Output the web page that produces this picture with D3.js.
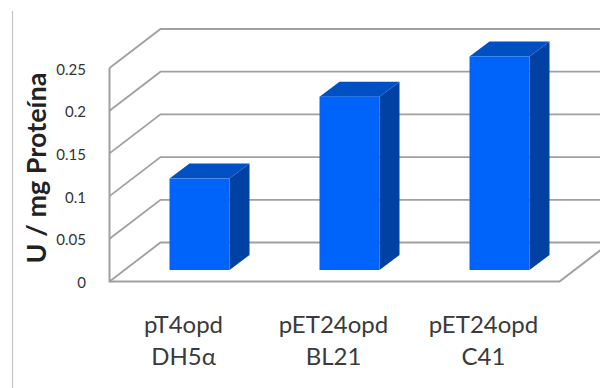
<!DOCTYPE html>
<html>
<head>
<meta charset="utf-8">
<script src="https://cdn.jsdelivr.net/npm/d3@7"></script>
<style>
html,body{margin:0;padding:0;background:#fff;}
svg{display:block;}
text{font-family:Lato,"Open Sans",sans-serif;}
</style>
</head>
<body>
<div id="chart"></div>
<script>
const categoryTop = ["pT4opd", "pET24opd", "pET24opd"];
const categoryBottom = ["DH5α", "BL21", "C41"];
const activity = [0.107, 0.203, 0.25];
const tickValues = [0, 0.05, 0.1, 0.15, 0.2, 0.25];
const tickLabels = ["0", "0.05", "0.1", "0.15", "0.2", "0.25"];

const width = 600, height = 388;
const svg = d3.select("#chart").append("svg").attr("width", width).attr("height", height);

// Oblique projection: front plane scales plus the offset of the back wall
const y = d3.scaleLinear().domain([0, 0.25]).range([281.5, 68]);
const x = d3.scaleBand().domain(d3.range(activity.length)).range([109.5, 559.5]).paddingInner(0.6).paddingOuter(0.3);
const wall = {dx: 51, dy: -39};
const barShift = {dx: 15, dy: -11.5};
const barDepth = {dx: 20, dy: -15};
const gridColor = "#a0a0a0";

// Left frame edge
svg.append("line").attr("x1", 12.5).attr("x2", 12.5).attr("y1", 11).attr("y2", height)
  .attr("stroke", "#c4c4c4").attr("stroke-width", 1.2);

// Wall gridlines with their slanted returns on the side wall
const grid = svg.append("g").attr("fill", "none").attr("stroke", gridColor).attr("stroke-width", 1.8);
grid.selectAll("path").data(tickValues).join("path")
  .attr("d", v => `M${x.range()[0]},${y(v)}L${x.range()[0] + wall.dx},${y(v) + wall.dy}L${width},${y(v) + wall.dy}`);

// Front axis line and floor edge
grid.append("path")
  .attr("d", `M${x.range()[0]},${y(0.25)}V${y(0)}H${x.range()[1]}L${x.range()[1] + wall.dx},${y(0) + wall.dy}`)
  .attr("stroke-width", 2);

// Value tick labels
svg.append("g").selectAll("text").data(tickValues).join("text")
  .attr("x", 86).attr("y", v => y(v) + 6.5)
  .attr("text-anchor", "end").attr("font-size", 15).attr("fill", "#333")
  .text((v, i) => tickLabels[i]);

// Bars: side, top and front faces
const bars = svg.append("g").selectAll("g").data(activity).join("g")
  .attr("transform", `translate(${barShift.dx},${barShift.dy})`);
bars.append("path").attr("fill", "#0041a3")
  .attr("d", (v, i) => {
    const r = x(i) + x.bandwidth();
    return `M${r},${y(v)}l${barDepth.dx},${barDepth.dy}V${y(0) + barDepth.dy}l${-barDepth.dx},${-barDepth.dy}Z`;
  });
bars.append("path").attr("fill", "#0050c4")
  .attr("d", (v, i) => `M${x(i)},${y(v)}l${barDepth.dx},${barDepth.dy}h${x.bandwidth()}l${-barDepth.dx},${-barDepth.dy}Z`);
bars.append("rect").attr("fill", "#0064fa")
  .attr("x", (v, i) => x(i)).attr("width", x.bandwidth())
  .attr("y", v => y(v)).attr("height", v => y(0) - y(v));

// Two-line category labels
const labels = svg.append("g").selectAll("text").data(activity).join("text")
  .attr("text-anchor", "middle").attr("font-size", 24).attr("fill", "#3a3a3a");
labels.append("tspan").attr("x", (v, i) => x(i) + x.bandwidth() / 2 - 1).attr("y", 333).text((v, i) => categoryTop[i]);
labels.append("tspan").attr("x", (v, i) => x(i) + x.bandwidth() / 2 - 1).attr("y", 365).text((v, i) => categoryBottom[i]);

// Axis title
svg.append("text").attr("transform", "translate(46,168) rotate(-90)")
  .attr("text-anchor", "middle").attr("font-size", 27).attr("font-weight", 700).attr("fill", "#222")
  .text("U / mg Proteína");
</script>
</body>
</html>
